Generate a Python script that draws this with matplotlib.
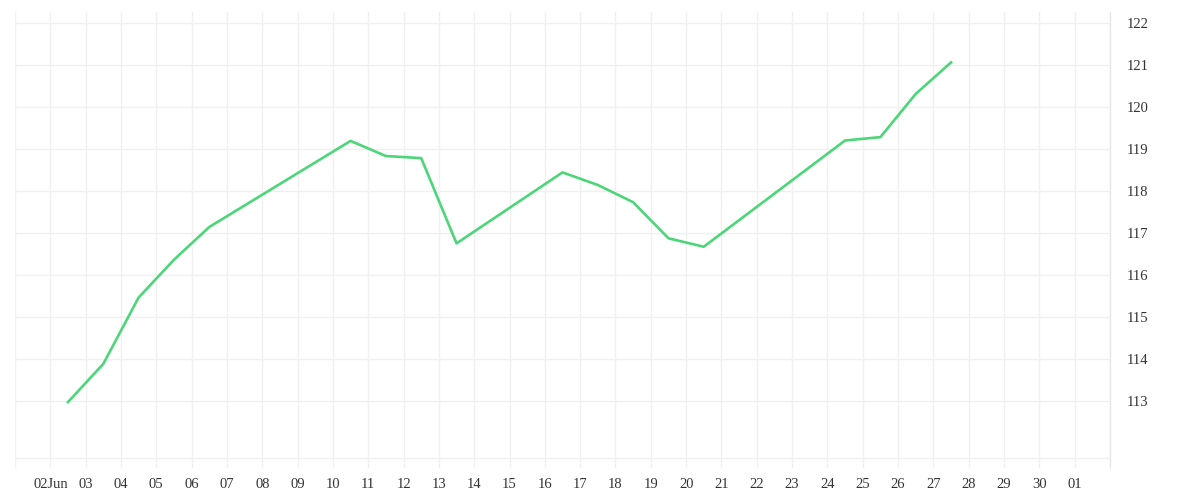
#!/usr/bin/env python3
"""Daily line series with a right-hand price scale, in a light trading-chart style."""

import pandas as pd
import matplotlib
matplotlib.use("Agg")
import matplotlib.pyplot as plt

# data (points sit at midday of each date)
dates = ["2024-06-02", "2024-06-03", "2024-06-04", "2024-06-05", "2024-06-06",
         "2024-06-10", "2024-06-11", "2024-06-12", "2024-06-13",
         "2024-06-16", "2024-06-17", "2024-06-18", "2024-06-19", "2024-06-20",
         "2024-06-24", "2024-06-25", "2024-06-26", "2024-06-27"]
values = [112.97, 113.88, 115.46, 116.36, 117.14,
          119.19, 118.83, 118.78, 116.75,
          118.44, 118.14, 117.73, 116.87, 116.67,
          119.20, 119.28, 120.31, 121.06]

tick_days = pd.date_range("2024-06-01", "2024-07-02", freq="D")
tick_labels = [""] + ["02Jun"] + [d.strftime("%d") for d in tick_days[2:-1]] + [""]
y_ticks = [113, 114, 115, 116, 117, 118, 119, 120, 121, 122]

LINE = "#4cd679"
GRID = "#f0f0f0"
TEXT = "#333333"

plt.rcParams["font.family"] = ["Liberation Serif", "DejaVu Serif"]
plt.rcParams["font.size"] = 10.5

fig = plt.figure(figsize=(12, 5), dpi=100)
ax = fig.add_axes([0.0125, 0.064, 0.9125, 0.912])

x = pd.to_datetime(dates) + pd.Timedelta(hours=12)
ax.plot(x, values, color=LINE, lw=1.9, solid_joinstyle="round", zorder=3)

ax.set_xlim(tick_days[0], tick_days[-1])
ax.set_ylim(111.40, 122.26)

ax.set_xticks(tick_days)
ax.set_xticklabels(tick_labels)
ax.set_yticks(y_ticks)
ax.set_yticklabels([str(v) for v in y_ticks])
ax.yaxis.tick_right()

ax.grid(True, color=GRID, lw=1)
ax.axhline(111.64, color=GRID, lw=1, zorder=1)
ax.set_axisbelow(True)

for side in ["top", "left", "bottom"]:
    ax.spines[side].set_visible(False)
ax.spines["right"].set_color("#e8e8e8")
ax.spines["right"].set_linewidth(1)

ax.tick_params(axis="x", length=0, pad=7.5, colors=TEXT)
ax.tick_params(axis="y", length=0, pad=12, colors=TEXT)
for lab in ax.get_yticklabels():
    lab.set_horizontalalignment("left")

fig.savefig("out.png", dpi=100)
